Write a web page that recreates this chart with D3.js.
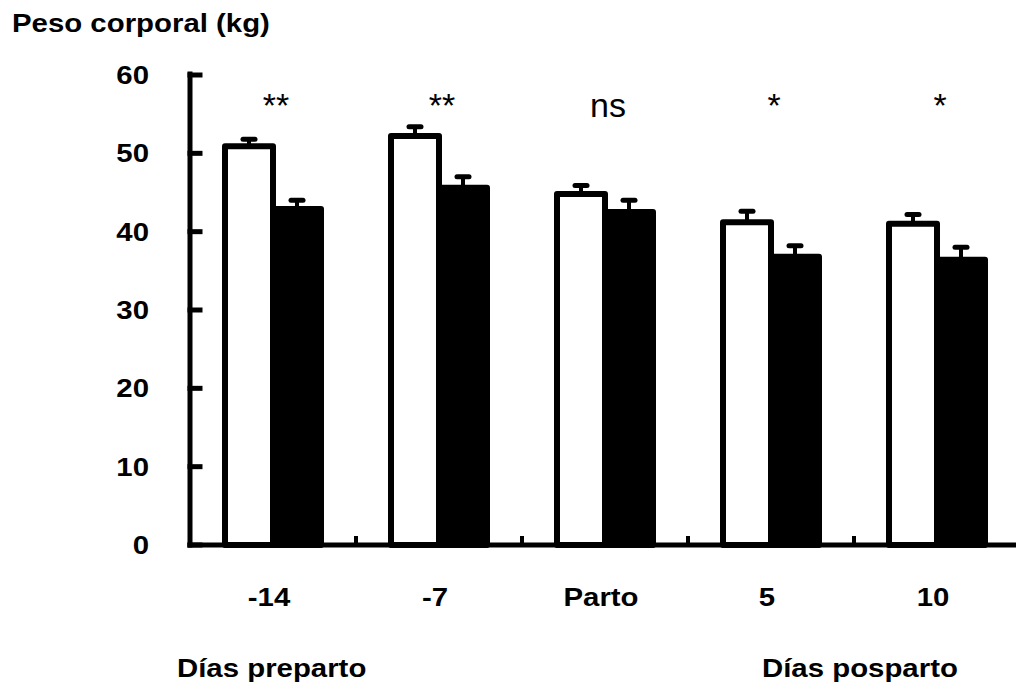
<!DOCTYPE html>
<html>
<head>
<meta charset="utf-8">
<script src="https://cdn.jsdelivr.net/npm/d3@7"></script>
<style>
  body { margin: 0; background: #fff; }
  text { font-family: "Liberation Sans", Arial, sans-serif; fill: #000; }
</style>
</head>
<body>
<svg width="1016" height="688"></svg>
<script>
// Data
const categories = ["-14", "-7", "Parto", "5", "10"];
const whiteValues = [50.9, 52.2, 44.8, 41.2, 41.0];
const whiteErrors = [0.9, 1.2, 1.1, 1.4, 1.2];
const blackValues = [42.9, 45.6, 42.5, 36.8, 36.4];
const blackErrors = [1.1, 1.4, 1.5, 1.4, 1.6];
const significance = ["**", "**", "ns", "*", "*"];
const yTicks = [0, 10, 20, 30, 40, 50, 60];

const svg = d3.select("svg");

const x = d3.scaleBand()
    .domain(categories)
    .range([190, 1020])
    .padding(0);

const y = d3.scaleLinear()
    .domain([0, 60])
    .range([545, 75]);

const barW = 48;
const sx = 1.13; // horizontal stretch of the labels

function label(g, px, py, str, opts) {
  return g.append("text")
      .attr("transform", `translate(${px},${py}) scale(${opts.sx || 1},1)`)
      .attr("text-anchor", opts.anchor || "start")
      .attr("font-size", opts.size)
      .attr("font-weight", opts.weight || "bold")
      .text(str);
}

const bars = svg.append("g")
    .attr("stroke", "#000")
    .attr("stroke-width", 6)
    .attr("stroke-linejoin", "round");

// white bars
bars.selectAll("rect.white")
  .data(categories)
  .join("rect")
    .attr("class", "white")
    .attr("x", d => x(d) + x.bandwidth() / 2 - barW)
    .attr("y", (d, i) => y(whiteValues[i]))
    .attr("width", barW)
    .attr("height", (d, i) => y(0) - y(whiteValues[i]))
    .attr("fill", "#fff");

// black bars
bars.selectAll("rect.black")
  .data(categories)
  .join("rect")
    .attr("class", "black")
    .attr("x", d => x(d) + x.bandwidth() / 2)
    .attr("y", (d, i) => y(blackValues[i]))
    .attr("width", barW)
    .attr("height", (d, i) => y(0) - y(blackValues[i]))
    .attr("fill", "#000");

// error bars (upper only)
const errs = [];
categories.forEach((c, i) => {
  errs.push({ cx: x(c) + x.bandwidth() / 2 - barW / 2, v: whiteValues[i], e: whiteErrors[i] });
  errs.push({ cx: x(c) + x.bandwidth() / 2 + barW / 2, v: blackValues[i], e: blackErrors[i] });
});

const eg = svg.append("g").attr("stroke", "#000");
eg.selectAll("line.stem")
  .data(errs)
  .join("line")
    .attr("class", "stem")
    .attr("stroke-width", 4)
    .attr("x1", d => d.cx).attr("x2", d => d.cx)
    .attr("y1", d => y(d.v)).attr("y2", d => y(d.v + d.e));
eg.selectAll("line.cap")
  .data(errs)
  .join("line")
    .attr("class", "cap")
    .attr("stroke-width", 5)
    .attr("stroke-linecap", "round")
    .attr("x1", d => d.cx - 6).attr("x2", d => d.cx + 6)
    .attr("y1", d => y(d.v + d.e)).attr("y2", d => y(d.v + d.e));

// axes
const axes = svg.append("g")
    .attr("stroke", "#000")
    .attr("stroke-width", 5)
    .attr("stroke-linecap", "square");

axes.append("line")
    .attr("x1", 190).attr("x2", 190)
    .attr("y1", y(60) - 1).attr("y2", y(0));
axes.selectAll("line.ytick")
  .data(yTicks)
  .join("line")
    .attr("class", "ytick")
    .attr("x1", 190).attr("x2", 200)
    .attr("y1", d => y(d)).attr("y2", d => y(d));
axes.append("line")
    .attr("x1", 190).attr("x2", 1016)
    .attr("y1", y(0)).attr("y2", y(0));
axes.selectAll("line.xtick")
  .data(categories.slice(1))
  .join("line")
    .attr("class", "xtick")
    .attr("stroke-linecap", "butt")
    .attr("stroke-width", 4)
    .attr("x1", d => x(d)).attr("x2", d => x(d))
    .attr("y1", y(0)).attr("y2", y(0) - 9);

const tg = svg.append("g");

// y tick labels
yTicks.forEach(t => label(tg, 149, y(t) + 9, String(t), { size: 26, sx: sx, anchor: "end" }));

// x tick labels
categories.forEach(c => label(tg, x(c) + x.bandwidth() / 2 - 4, 606, c, { size: 26, sx: sx, anchor: "middle" }));

// significance marks
significance.forEach((s, i) => {
  const c = categories[i];
  label(tg, x(c) + x.bandwidth() / 2 + 3, 117, s, { size: 34, weight: "normal", anchor: "middle" });
});

// titles
label(tg, 12, 32, "Peso corporal (kg)", { size: 26, sx: sx });
label(tg, 177, 677, "Días preparto", { size: 26, sx: sx });
label(tg, 762, 677, "Días posparto", { size: 26, sx: sx });
</script>
</body>
</html>
